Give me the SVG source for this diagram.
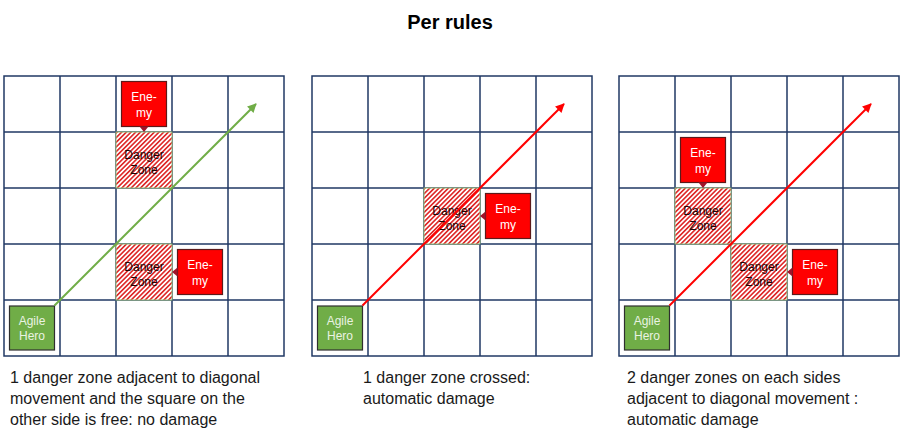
<svg xmlns="http://www.w3.org/2000/svg" xmlns:xlink="http://www.w3.org/1999/xlink" width="900" height="440" viewBox="0 0 900 440">
<style>
.title{font-family:"Liberation Sans",Arial,sans-serif;font-size:20px;font-weight:bold;fill:#000}
.cap{font-family:"Liberation Sans",Arial,sans-serif;font-size:16px;fill:#1a1a1a}
.lbl{font-family:"Liberation Sans",Arial,sans-serif;font-size:12px;text-anchor:middle}
.grid{fill:#fff;stroke:#203864;stroke-width:1.5}
.dz{fill:url(#hatch);stroke:#9DC37F;stroke-width:1}
.dzt{fill:#1a0505}
.en{fill:#FF0000;stroke:#5C1A1A;stroke-width:1.2}
.ptr{fill:#A0142A;stroke:none}
.ent{fill:#fff}
.hero{fill:#70AD47;stroke:#2f2f2f;stroke-width:1.2}
.herot{fill:#EAF3E2}
.arG{fill:none;stroke:#70AD47;stroke-width:2}
.arR{fill:none;stroke:#FF0000;stroke-width:2}
</style>
<defs>
<pattern id="hatch" patternUnits="userSpaceOnUse" width="3.3" height="3.3" patternTransform="rotate(45)">
<rect width="3.3" height="3.3" fill="#fff"/>
<rect width="1.6" height="3.3" fill="#DD2626"/>
</pattern>
<marker id="mG" viewBox="0 0 10 10" refX="9" refY="5" markerWidth="5" markerHeight="4.5" orient="auto" markerUnits="strokeWidth">
<path d="M0,0 L10,5 L0,10 Z" fill="#70AD47"/>
</marker>
<marker id="mR" viewBox="0 0 10 10" refX="9" refY="5" markerWidth="5" markerHeight="4.5" orient="auto" markerUnits="strokeWidth">
<path d="M0,0 L10,5 L0,10 Z" fill="#FF0000"/>
</marker>
<g id="gridShape">
<rect class="grid" x="0" y="0" width="280" height="280"/>
<path class="grid" d="M56,0V280M112,0V280M168,0V280M224,0V280M0,56H280M0,112H280M0,168H280M0,224H280"/>
</g>
</defs>

<text class="title" x="450" y="29" text-anchor="middle">Per rules</text>

<!-- Panel 1 -->
<g id="panel1" transform="translate(4,76)">
<use xlink:href="#gridShape"/>
<g id="p1-danger1"><rect class="dz" x="112" y="56" width="56" height="56"/><text class="lbl dzt" x="140" y="83">Danger</text><text class="lbl dzt" x="140" y="98">Zone</text></g>
<g id="p1-danger2"><rect class="dz" x="112" y="168" width="56" height="56"/><text class="lbl dzt" x="140" y="195">Danger</text><text class="lbl dzt" x="140" y="210">Zone</text></g>
<g id="p1-enemy1"><rect class="en" x="117.5" y="5.5" width="45" height="45"/><path class="ptr" d="M135.5,50.5 L144.5,50.5 L140,56 Z"/><text class="lbl ent" x="140" y="25">Ene-</text><text class="lbl ent" x="140" y="41">my</text></g>
<g id="p1-enemy2"><rect class="en" x="173.5" y="173.5" width="45" height="45"/><path class="ptr" d="M173.5,191.5 L173.5,200.5 L168,196 Z"/><text class="lbl ent" x="196" y="193">Ene-</text><text class="lbl ent" x="196" y="209">my</text></g>
<g id="p1-hero"><rect class="hero" x="5.5" y="230" width="45" height="44"/><text class="lbl herot" x="28" y="249">Agile</text><text class="lbl herot" x="28" y="264">Hero</text></g>
<g id="p1-connectors"><path class="arG" d="M50.5,229.5 L252,28" marker-end="url(#mG)"/></g>
</g>

<!-- Panel 2 -->
<g id="panel2" transform="translate(312,76)">
<use xlink:href="#gridShape"/>
<g id="p2-danger"><rect class="dz" x="112" y="112" width="56" height="56"/><text class="lbl dzt" x="140" y="139">Danger</text><text class="lbl dzt" x="140" y="154">Zone</text></g>
<g id="p2-enemy"><rect class="en" x="173.5" y="117.5" width="45" height="45"/><path class="ptr" d="M173.5,135.5 L173.5,144.5 L168,140 Z"/><text class="lbl ent" x="196" y="137">Ene-</text><text class="lbl ent" x="196" y="153">my</text></g>
<g id="p2-hero"><rect class="hero" x="5.5" y="230" width="45" height="44"/><text class="lbl herot" x="28" y="249">Agile</text><text class="lbl herot" x="28" y="264">Hero</text></g>
<g id="p2-connectors"><path class="arR" d="M50.5,229.5 L252,28" marker-end="url(#mR)"/></g>
</g>

<!-- Panel 3 -->
<g id="panel3" transform="translate(619,76)">
<use xlink:href="#gridShape"/>
<g id="p3-danger1"><rect class="dz" x="56" y="112" width="56" height="56"/><text class="lbl dzt" x="84" y="139">Danger</text><text class="lbl dzt" x="84" y="154">Zone</text></g>
<g id="p3-danger2"><rect class="dz" x="112" y="168" width="56" height="56"/><text class="lbl dzt" x="140" y="195">Danger</text><text class="lbl dzt" x="140" y="210">Zone</text></g>
<g id="p3-enemy1"><rect class="en" x="61.5" y="61.5" width="45" height="45"/><path class="ptr" d="M79.5,106.5 L88.5,106.5 L84,112 Z"/><text class="lbl ent" x="84" y="81">Ene-</text><text class="lbl ent" x="84" y="97">my</text></g>
<g id="p3-enemy2"><rect class="en" x="173.5" y="173.5" width="45" height="45"/><path class="ptr" d="M173.5,191.5 L173.5,200.5 L168,196 Z"/><text class="lbl ent" x="196" y="193">Ene-</text><text class="lbl ent" x="196" y="209">my</text></g>
<g id="p3-hero"><rect class="hero" x="5.5" y="230" width="45" height="44"/><text class="lbl herot" x="28" y="249">Agile</text><text class="lbl herot" x="28" y="264">Hero</text></g>
<g id="p3-connectors"><path class="arR" d="M50.5,229.5 L252,28" marker-end="url(#mR)"/></g>
</g>

<text class="cap" x="10" y="383">1 danger zone adjacent to diagonal</text>
<text class="cap" x="10" y="404">movement and the square on the</text>
<text class="cap" x="10" y="425">other side is free: no damage</text>

<text class="cap" x="363" y="383">1 danger zone crossed:</text>
<text class="cap" x="363" y="404">automatic damage</text>

<text class="cap" x="627" y="383">2 danger zones on each sides</text>
<text class="cap" x="627" y="404">adjacent to diagonal movement :</text>
<text class="cap" x="627" y="425">automatic damage</text>
</svg>
